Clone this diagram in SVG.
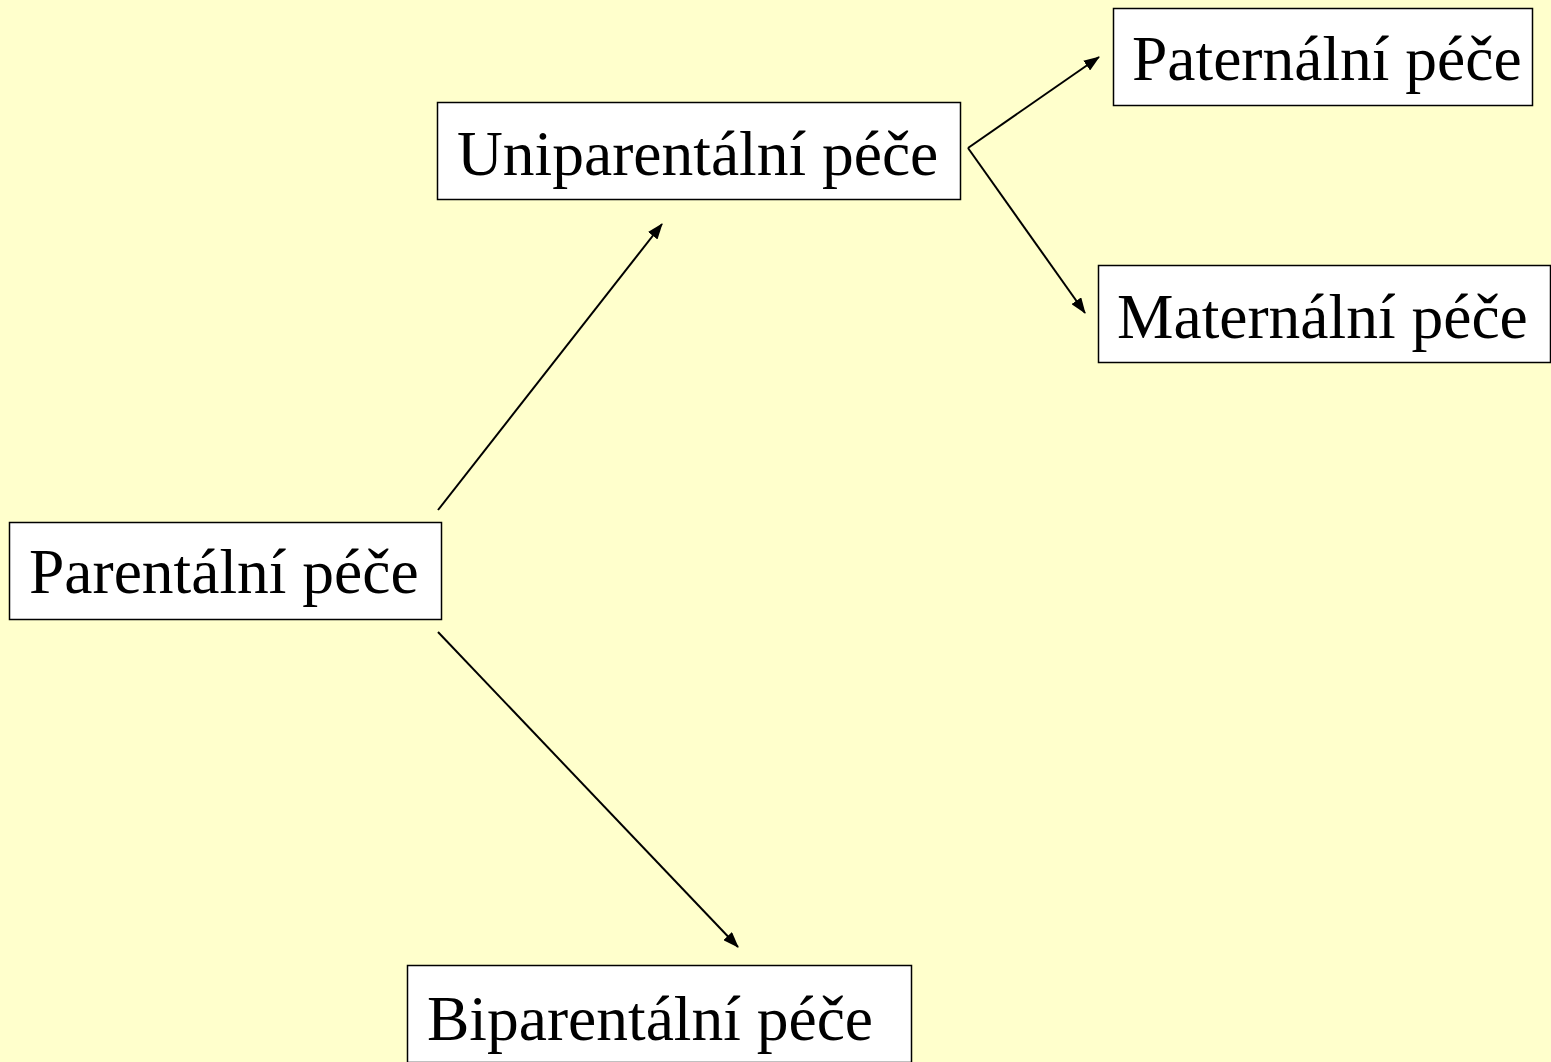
<svg xmlns="http://www.w3.org/2000/svg" width="1551" height="1062" viewBox="0 0 1551 1062">
<style>
.box{fill:#ffffff;stroke:#000000;stroke-width:1.5}
.lbl{font-family:"Liberation Serif","Times New Roman",serif;font-size:63.5px;fill:#000000}
.conn{stroke:#000000;stroke-width:2;fill:none;marker-end:url(#arr)}
</style>
<defs>
<marker id="arr" markerUnits="userSpaceOnUse" markerWidth="16" markerHeight="12" refX="15" refY="6" orient="auto">
<path d="M0,0 L16,6 L0,12 Z" fill="#000000"/>
</marker>
</defs>
<rect width="1551" height="1062" fill="#ffffcc"/>
<g id="connectors">
<line class="conn" x1="438" y1="510" x2="662" y2="224"/>
<line class="conn" x1="438" y1="632" x2="738" y2="947"/>
<line class="conn" x1="968" y1="148" x2="1099" y2="57"/>
<line class="conn" x1="968" y1="148" x2="1085" y2="313"/>
</g>
<g id="parentalni">
<rect class="box" x="9.5" y="522.5" width="432" height="97"/>
<text class="lbl" x="29" y="593">Parentální péče</text>
</g>
<g id="uniparentalni">
<rect class="box" x="437.5" y="102.5" width="523" height="97"/>
<text class="lbl" x="457" y="175">Uniparentální péče</text>
</g>
<g id="paternalni">
<rect class="box" x="1113.5" y="8.5" width="419" height="97"/>
<text class="lbl" x="1132" y="80">Paternální péče</text>
</g>
<g id="maternalni">
<rect class="box" x="1098.5" y="265.5" width="452" height="97"/>
<text class="lbl" x="1117" y="338">Maternální péče</text>
</g>
<g id="biparentalni">
<rect class="box" x="407.5" y="965.5" width="504" height="97"/>
<text class="lbl" x="427" y="1040">Biparentální péče</text>
</g>
</svg>
